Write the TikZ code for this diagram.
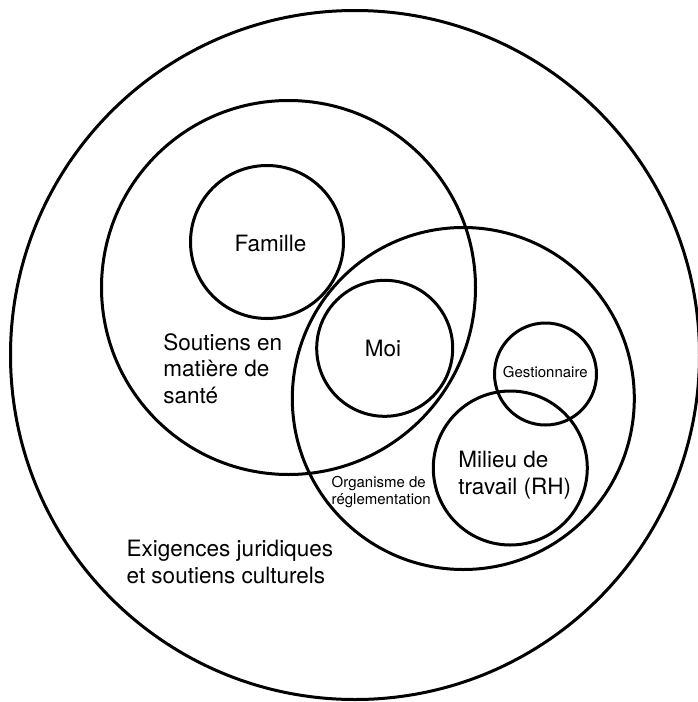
\documentclass[tikz,border=0pt]{standalone}
\usepackage{fontspec}
\setmainfont{TeX Gyre Heros}
\begin{document}
\begin{tikzpicture}[x=1pt,y=-1pt,
  ring/.style={circle,draw=black,line width=3pt,inner sep=0pt,outer sep=0pt},
  bigtext/.style={font=\fontsize{22.5}{26.5}\selectfont,inner sep=0pt,outer sep=0pt,align=left},
  smalltext/.style={font=\fontsize{15}{16.8}\selectfont,inner sep=0pt,outer sep=0pt,align=left}]
\useasboundingbox (0,0) rectangle (698,702);
\fill[white] (0,0) rectangle (698,702);
\begin{scope}
\clip (0,0) rectangle (698,702);
\node[ring,minimum size=689pt] (outer) at (355,355) {};
\end{scope}
\node[ring,minimum size=374pt] (sante) at (288.5,287.5) {};
\node[ring,minimum size=342pt] (regl) at (463.3,398.5) {};
\node[ring,minimum size=153pt] (famille) at (267,242) {};
\node[ring,minimum size=136pt] (moi) at (384.7,348.3) {};
\node[ring,minimum size=102pt] (gest) at (545.5,374) {};
\node[ring,minimum size=154pt] (milieu) at (510.3,468) {};

\node[bigtext,anchor=base] (tfam) at (270.5,251) {Famille};
\node[bigtext,anchor=base] (tmoi) at (383,356) {Moi};
\node[smalltext,anchor=base] (tgest) at (545.3,377.7) {Gestionnaire};
\node[bigtext,anchor=base west] (tsante) at (163.3,403.3) {Soutiens en\\matière de\\santé};
\node[smalltext,anchor=base west] (tregl) at (331.7,504) {Organisme de\\réglementation};
\node[bigtext,anchor=base west] (tmil) at (458.3,494) {Milieu de\\travail (RH)};
\node[bigtext,anchor=base west] (texig) at (126.7,583.3) {Exigences juridiques\\et soutiens culturels};
\end{tikzpicture}
\end{document}
